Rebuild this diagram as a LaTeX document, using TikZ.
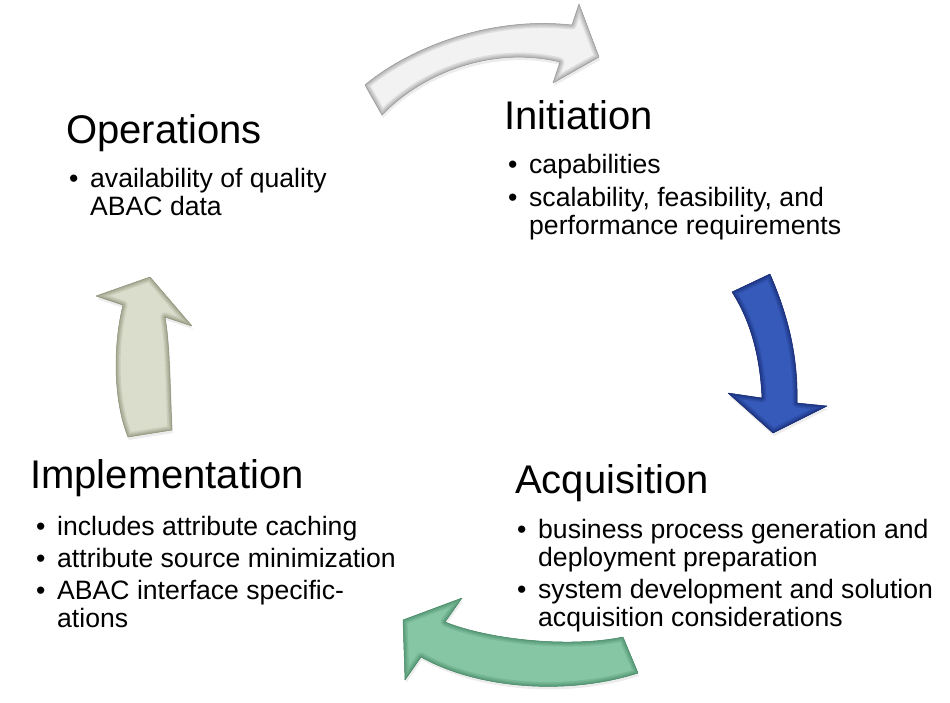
\documentclass[tikz,border=0pt]{standalone}
\usepackage{fontspec}
\setmainfont{Liberation Sans}
\usetikzlibrary{shadows}

\definecolor{opsgray}{RGB}{218,221,204}
\definecolor{opsrim}{RGB}{140,144,118}
\definecolor{initwhite}{RGB}{242,242,242}
\definecolor{initrim}{RGB}{150,150,150}
\definecolor{acqblue}{RGB}{54,90,186}
\definecolor{acqrim}{RGB}{22,40,112}
\definecolor{implgreen}{RGB}{134,198,164}
\definecolor{implrim}{RGB}{70,135,102}

\newcommand{\itm}{\makebox[21pt][l]{\textbullet}}
\newcommand{\opsinitpath}{(365,85) .. controls (400,55) and (480,15) .. (572,25) -- (579,4) -- (599,57) -- (553,83) -- (560,62) .. controls (490,45) and (420,75) .. (382,115) -- cycle}
\newcommand{\initacqpath}{(770,274) .. controls (790,320) and (798,360) .. (797,403) -- (827,406) -- (773,433) -- (728,393) -- (762,398) .. controls (760,355) and (750,320) .. (732,292) -- cycle}
\newcommand{\acqimplpath}{(638,673) .. controls (570,695) and (480,690) .. (421,657) -- (405,680) -- (403,620) -- (462,598) -- (445,622) .. controls (490,640) and (570,648) .. (623,637) -- cycle}
\newcommand{\implopspath}{(128,437) .. controls (113,400) and (113,345) .. (123,305) -- (96,296) -- (150,277) -- (192,326) -- (165,317) .. controls (170,345) and (170,390) .. (172,430) -- cycle}

\tikzset{
  title/.style={anchor=base west, inner sep=0pt, font=\fontsize{40}{44}\selectfont},
  items/.style={anchor=base west, inner sep=0pt, font=\fontsize{26.6}{28}\selectfont},
  arrowfill/.style={fill=#1, drop shadow={shadow xshift=1pt, shadow yshift=-3pt, opacity=0.15}},
  arrowrim/.style={draw=#1, opacity=0.22, line join=round},
  arrowline/.style={draw=#1, line width=0.5pt, line join=round}
}

\begin{document}
\begin{tikzpicture}[x=1pt, y=-1pt]
\useasboundingbox (0,0) rectangle (950,702);

% cycle arrows
\fill [arrowfill=initwhite] \opsinitpath;
\begin{scope}
\clip \opsinitpath;
\foreach \w in {9,6,4,2}
  \draw [arrowrim=initrim, line width=\w pt] \opsinitpath;
\end{scope}
\draw [arrowline=initrim] \opsinitpath;

\fill [arrowfill=acqblue] \initacqpath;
\begin{scope}
\clip \initacqpath;
\foreach \w in {9,6,4,2}
  \draw [arrowrim=acqrim, line width=\w pt] \initacqpath;
\end{scope}
\draw [arrowline=acqrim] \initacqpath;

\fill [arrowfill=implgreen] \acqimplpath;
\begin{scope}
\clip \acqimplpath;
\foreach \w in {9,6,4,2}
  \draw [arrowrim=implrim, line width=\w pt] \acqimplpath;
\end{scope}
\draw [arrowline=implrim] \acqimplpath;

\fill [arrowfill=opsgray] \implopspath;
\begin{scope}
\clip \implopspath;
\foreach \w in {9,6,4,2}
  \draw [arrowrim=opsrim, line width=\w pt] \implopspath;
\end{scope}
\draw [arrowline=opsrim] \implopspath;

% phases
\node [title] (ops) at (66,143) {Operations};
\node [items] (opslist) at (69,187) {\begin{tabular}[t]{@{}l@{}l@{}}
\itm & availability of quality\\
 & ABAC data
\end{tabular}};

\node [title] (init) at (504,129) {Initiation};
\node [items] (initlist) at (508,173) {\begin{tabular}[t]{@{}l@{}l@{}}
\itm & capabilities\\[5pt]
\itm & scalability, feasibility, and\\
 & performance requirements
\end{tabular}};

\node [title] (acq) at (515,493) {Acquisition};
\node [items] (acqlist) at (517,538) {\begin{tabular}[t]{@{}l@{}l@{}}
\itm & business process generation and\\
 & deployment preparation\\[4pt]
\itm & system development and solution\\
 & acquisition considerations
\end{tabular}};

\node [title] (impl) at (30,488) {Implementation};
\node [items] (impllist) at (36,535) {\begin{tabular}[t]{@{}l@{}l@{}}
\itm & includes attribute caching\\[4pt]
\itm & attribute source minimization\\[4pt]
\itm & ABAC interface specific-\\
 & ations
\end{tabular}};
\end{tikzpicture}
\end{document}
